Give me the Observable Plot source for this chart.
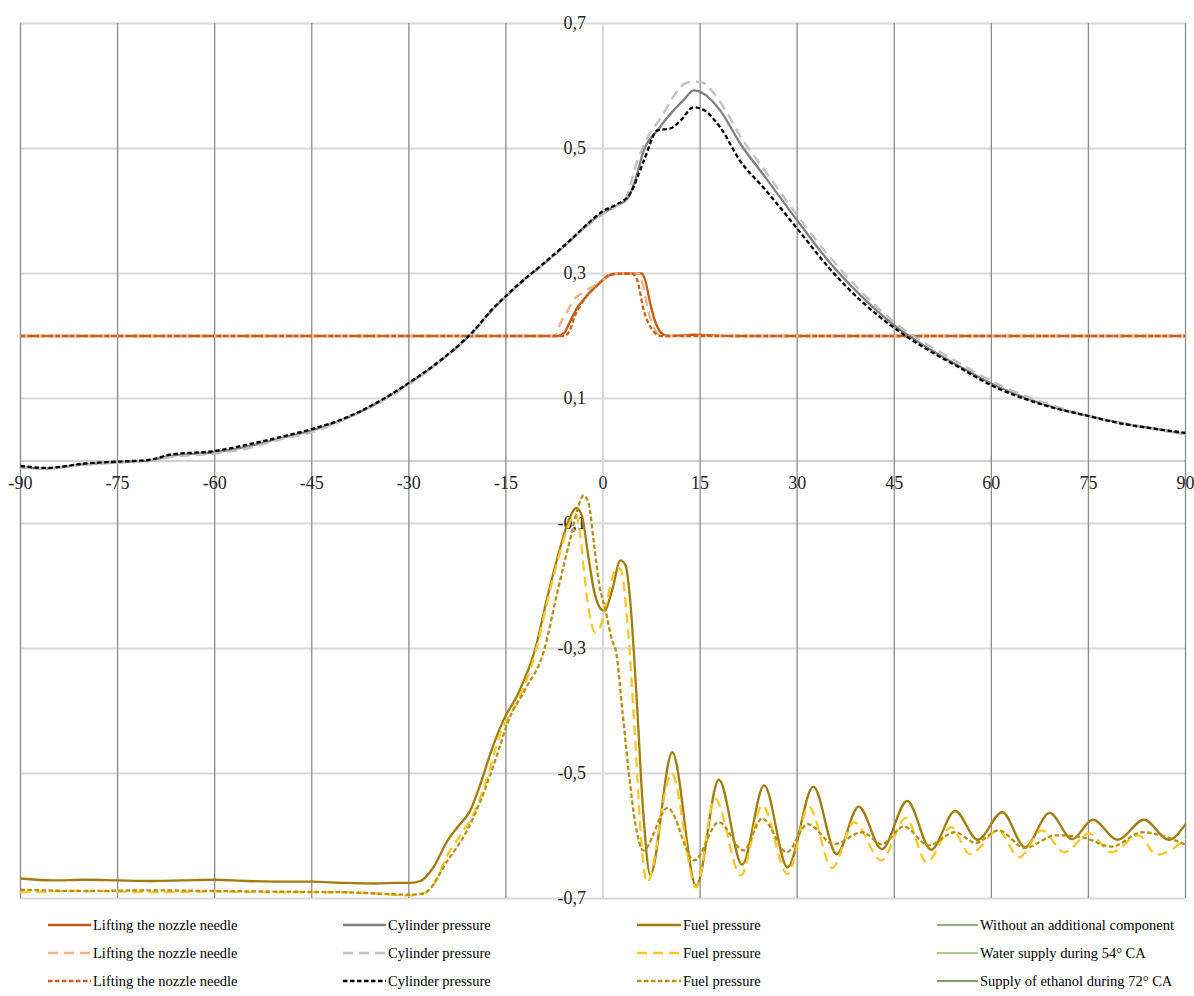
<!DOCTYPE html>
<html><head><meta charset="utf-8">
<script src="https://cdn.jsdelivr.net/npm/d3@7"></script>
<script src="https://cdn.jsdelivr.net/npm/@observablehq/plot@0.6"></script>
<style>
body{margin:0;background:#fff;font-family:"Liberation Serif","Times New Roman",serif;}
#wrap{position:relative;width:1194px;height:996px;overflow:hidden;}
#wrap svg.plot{position:absolute;left:0;top:0;}
.leg{position:absolute;display:flex;align-items:center;font-size:14.5px;color:#000;white-space:nowrap;height:16px;}
.leg svg{display:block;}
</style></head><body><div id="wrap"></div>
<script>
// ---- axis ticks ----
const xTicks = [-90,-75,-60,-45,-30,-15,0,15,30,45,60,75,90];
const xTickLabels = ["-90","-75","-60","-45","-30","-15","0","15","30","45","60","75","90"];
const yTicks = [0.7,0.5,0.3,0.1,-0.1,-0.3,-0.5,-0.7];
const yTickLabels = ["0,7","0,5","0,3","0,1","-0,1","-0,3","-0,5","-0,7"];

// ---- Lifting the nozzle needle ----
const needleSolid = [[-90,0.2],[-7,0.2],[-6,0.205],[-5,0.225],[-4,0.245],[-3,0.258],[-2,0.27],[-1,0.28],[0,0.29],[1,0.297],[2,0.3],[6,0.3],[6.5,0.29],[7.3,0.252],[8,0.225],[9,0.205],[10,0.2],[14,0.202],[20,0.2],[90,0.2]];
const needleLong = [[-90,0.2],[-7.5,0.2],[-6.6,0.22],[-5.5,0.24],[-4.6,0.257],[-3,0.27],[-1,0.283],[0,0.29],[1.5,0.3],[5.5,0.3],[6.2,0.28],[7,0.24],[8,0.21],[9,0.2],[90,0.2]];
const needleShort = [[-90,0.2],[-6,0.2],[-5,0.212],[-4.6,0.225],[-3,0.257],[-2,0.27],[-1,0.28],[0,0.29],[1,0.298],[4.5,0.3],[5.3,0.289],[6.3,0.241],[7.3,0.215],[8,0.205],[9,0.2],[90,0.2]];

// ---- Cylinder pressure ----
const cylSolid = [[-90,-0.010],[-86,-0.012],[-80,-0.005],[-75,-0.002],[-70,0.001],[-67,0.008],[-60,0.014],[-55,0.023],[-50,0.036],[-45,0.049],[-40,0.067],[-35,0.092],[-30,0.124],[-25,0.161],[-20,0.207],[-17,0.243],[-15,0.263],[-12,0.292],[-10,0.308],[-5,0.353],[-2,0.382],[0,0.397],[2,0.408],[3.8,0.42],[5,0.45],[6.3,0.497],[8.4,0.529],[10.9,0.561],[12.5,0.578],[14,0.593],[15.5,0.588],[18.1,0.561],[21.2,0.508],[25,0.455],[30,0.385],[35,0.318],[40,0.263],[45,0.217],[50,0.182],[55,0.152],[60,0.124],[65,0.102],[70,0.085],[75,0.072],[80,0.061],[85,0.052],[90,0.043]];
const cylLong = [[-90,-0.010],[-86,-0.012],[-80,-0.006],[-75,-0.003],[-70,0.0],[-67,0.006],[-60,0.012],[-55,0.02],[-50,0.034],[-45,0.046],[-40,0.066],[-35,0.091],[-30,0.122],[-25,0.161],[-20,0.207],[-17,0.243],[-15,0.263],[-12,0.292],[-10,0.308],[-5,0.353],[-2,0.38],[0,0.395],[2,0.407],[3.5,0.42],[5.3,0.48],[7,0.52],[9,0.55],[11,0.585],[12.5,0.603],[14,0.607],[15.5,0.605],[17,0.59],[19,0.56],[21.2,0.52],[25,0.465],[30,0.393],[35,0.327],[40,0.27],[45,0.222],[50,0.187],[55,0.157],[60,0.128],[65,0.105],[70,0.087],[75,0.073],[80,0.061],[85,0.051],[90,0.043]];
const cylShort = [[-90,-0.008],[-86,-0.011],[-80,-0.004],[-75,-0.001],[-70,0.002],[-67,0.01],[-60,0.016],[-55,0.026],[-50,0.038],[-45,0.051],[-40,0.068],[-35,0.093],[-30,0.125],[-25,0.162],[-20,0.208],[-17,0.244],[-15,0.264],[-12,0.292],[-10,0.309],[-5,0.354],[-2,0.383],[0,0.4],[2,0.41],[4.2,0.428],[6.3,0.48],[8.4,0.529],[10.4,0.532],[12,0.545],[14,0.566],[15.5,0.562],[18.1,0.534],[21.2,0.48],[25,0.435],[30,0.372],[35,0.308],[40,0.255],[45,0.213],[50,0.179],[55,0.15],[60,0.121],[65,0.1],[70,0.084],[75,0.072],[80,0.06],[85,0.052],[90,0.045]];

// ---- Fuel pressure ----
const fuelSolid = [[-90,-0.668],[-85,-0.671],[-80,-0.67],[-75,-0.671],[-70,-0.672],[-65,-0.671],[-60,-0.67],[-55,-0.672],[-50,-0.673],[-45,-0.673],[-40,-0.675],[-35,-0.676],[-32,-0.675],[-29.8,-0.675],[-28.2,-0.672],[-26.2,-0.65],[-24,-0.607],[-22.5,-0.586],[-20.5,-0.559],[-18.9,-0.516],[-17.4,-0.468],[-15.4,-0.415],[-13,-0.37],[-10.4,-0.298],[-8.6,-0.218],[-6.6,-0.138],[-5.3,-0.095],[-4.1,-0.075],[-3.2,-0.09],[-2.4,-0.143],[-1.4,-0.207],[-0.4,-0.236],[0.2,-0.24],[1.4,-0.207],[2.7,-0.159],[3.5,-0.167],[4.2,-0.223],[5.2,-0.38],[6.2,-0.56],[7.3,-0.662],[10.7,-0.466],[14.4,-0.68],[17.9,-0.51],[21.5,-0.646],[24.9,-0.519],[28.5,-0.65],[32.5,-0.521],[36.1,-0.629],[39.5,-0.553],[43.1,-0.621],[47,-0.544],[50.7,-0.622],[54.4,-0.56],[57.9,-0.606],[61.7,-0.562],[65.2,-0.618],[69,-0.563],[72.5,-0.605],[75.7,-0.574],[79.5,-0.606],[83.6,-0.574],[87.4,-0.606],[90,-0.581]];
const fuelLong = [[-90,-0.69],[-80,-0.688],[-70,-0.69],[-60,-0.689],[-50,-0.69],[-40,-0.69],[-35,-0.692],[-30,-0.695],[-28,-0.693],[-26,-0.675],[-24,-0.63],[-22,-0.598],[-20,-0.565],[-18,-0.51],[-16,-0.44],[-13,-0.38],[-10.4,-0.305],[-8.6,-0.225],[-6.6,-0.145],[-5.2,-0.1],[-4.3,-0.085],[-3.5,-0.12],[-2.8,-0.19],[-2,-0.25],[-1.2,-0.274],[-0.3,-0.262],[0.6,-0.223],[2.2,-0.17],[2.8,-0.175],[3.7,-0.25],[5,-0.45],[6,-0.62],[6.8,-0.674],[10.6,-0.5],[14.4,-0.682],[17.3,-0.54],[21.3,-0.663],[24.6,-0.551],[28.5,-0.661],[31.8,-0.553],[35.4,-0.651],[38.8,-0.578],[43,-0.639],[46.8,-0.571],[50,-0.642],[53.8,-0.586],[56.7,-0.629],[61.1,-0.591],[64.3,-0.634],[67.8,-0.591],[71.3,-0.626],[75.1,-0.596],[78.6,-0.626],[82.7,-0.599],[85.6,-0.63],[90,-0.605]];
const fuelShort = [[-90,-0.686],[-80,-0.688],[-70,-0.687],[-60,-0.688],[-50,-0.689],[-40,-0.69],[-35,-0.692],[-30,-0.694],[-27.7,-0.692],[-24,-0.639],[-21,-0.591],[-18.9,-0.543],[-16.3,-0.468],[-14.6,-0.415],[-12,-0.365],[-9.1,-0.303],[-7.1,-0.212],[-5,-0.122],[-3.7,-0.069],[-3,-0.055],[-2.2,-0.069],[-1.4,-0.132],[-0.6,-0.196],[0.4,-0.239],[1.4,-0.287],[2,-0.304],[3,-0.4],[4,-0.5],[5,-0.58],[6.2,-0.623],[10,-0.555],[14.1,-0.639],[17.9,-0.578],[21.7,-0.623],[24.6,-0.572],[28.4,-0.626],[31.6,-0.581],[35.7,-0.613],[40.1,-0.594],[43,-0.613],[46.5,-0.585],[50.3,-0.615],[54.4,-0.594],[57.6,-0.611],[61.1,-0.591],[65.2,-0.619],[69.9,-0.599],[74,-0.602],[78.6,-0.617],[83.3,-0.594],[90,-0.614]];

// ---- legend ----
const legendLabels = [
  ["Lifting the nozzle needle","Cylinder pressure","Fuel pressure","Without an additional component"],
  ["Lifting the nozzle needle","Cylinder pressure","Fuel pressure","Water supply during 54° CA"],
  ["Lifting the nozzle needle","Cylinder pressure","Fuel pressure","Supply of ethanol during 72° CA"]
];

// styles (by series)
const LONG = "10,6", SHORT = "4.5,2.5";
const series = [
  {data: needleSolid, stroke: "#C55A11", dash: null},
  {data: needleLong, stroke: "#F4B183", dash: LONG},
  {data: needleShort, stroke: "#C8601C", dash: SHORT},
  {data: cylSolid, stroke: "#808080", dash: null},
  {data: cylLong, stroke: "#C0C0C0", dash: LONG},
  {data: cylShort, stroke: "#000000", dash: SHORT},
  {data: fuelSolid, stroke: "#A07D0C", dash: null},
  {data: fuelLong, stroke: "#FFC629", dash: LONG},
  {data: fuelShort, stroke: "#B8900F", dash: SHORT}
];

const W = 1194, H = 910;
const marks = [
  Plot.ruleY(yTicks, {stroke: "#d9d9d9", strokeWidth: 2}),
  Plot.ruleY([0], {stroke: "#d0d0d0", strokeWidth: 2}),
  Plot.ruleX(xTicks.filter(d => d !== 0), {stroke: "#8c8c8c", strokeWidth: 1.3}),
  Plot.ruleX([0], {stroke: "#d9d9d9", strokeWidth: 2}),
  Plot.text(xTicks, {x: d => d, y: 0, text: (d, i) => xTickLabels[i], dy: 22, fontSize: 18, fill: "#1f1f1f"}),
  Plot.text(yTicks, {x: 0, y: d => d, text: (d, i) => yTickLabels[i], dx: -17, textAnchor: "end", fontSize: 18, fill: "#1f1f1f"})
];
for (const s of series) {
  marks.push(Plot.line(s.data, {x: d => d[0], y: d => d[1], stroke: s.stroke, strokeWidth: 2.3,
    strokeDasharray: s.dash || undefined, strokeLinecap: "butt", curve: "monotone-x"}));
}

const plot = Plot.plot({
  width: W, height: H,
  marginLeft: 20, marginRight: 9, marginTop: 23, marginBottom: 12,
  x: {domain: [-90, 90], axis: null},
  y: {domain: [-0.7, 0.7], axis: null},
  style: {background: "white", fontFamily: "'Liberation Serif', 'Times New Roman', serif", overflow: "visible"},
  marks
});
plot.classList.add("plot");
const wrap = document.getElementById("wrap");
wrap.appendChild(plot);

// HTML legend
const colLineStart = [48, 343, 637, 937];
const colTextStart = [93, 388, 683, 980];
const rowY = [925, 953, 981];
const legendStyles = [
  [series[0], series[3], series[6], {stroke: "#6A9A4A", dash: null, w: 1.6}],
  [series[1], series[4], series[7], {stroke: "#8DB870", dash: null, w: 1.6}],
  [series[2], series[5], series[8], {stroke: "#548235", dash: null, w: 1.6}]
];
legendLabels.forEach((row, r) => {
  row.forEach((label, c) => {
    const st = legendStyles[r][c];
    const div = document.createElement("div");
    div.className = "leg";
    div.style.left = colLineStart[c] + "px";
    div.style.top = (rowY[r] - 8) + "px";
    const w = colTextStart[c] - colLineStart[c];
    const dash = st.dash ? `stroke-dasharray="${st.dash}"` : "";
    div.innerHTML = `<svg width="${w}" height="16"><line x1="0" x2="${w - 2}" y1="8" y2="8" stroke="${st.stroke}" stroke-width="${st.w || 2.3}" ${dash}/></svg><span>${label}</span>`;
    wrap.appendChild(div);
  });
});
</script></body></html>
